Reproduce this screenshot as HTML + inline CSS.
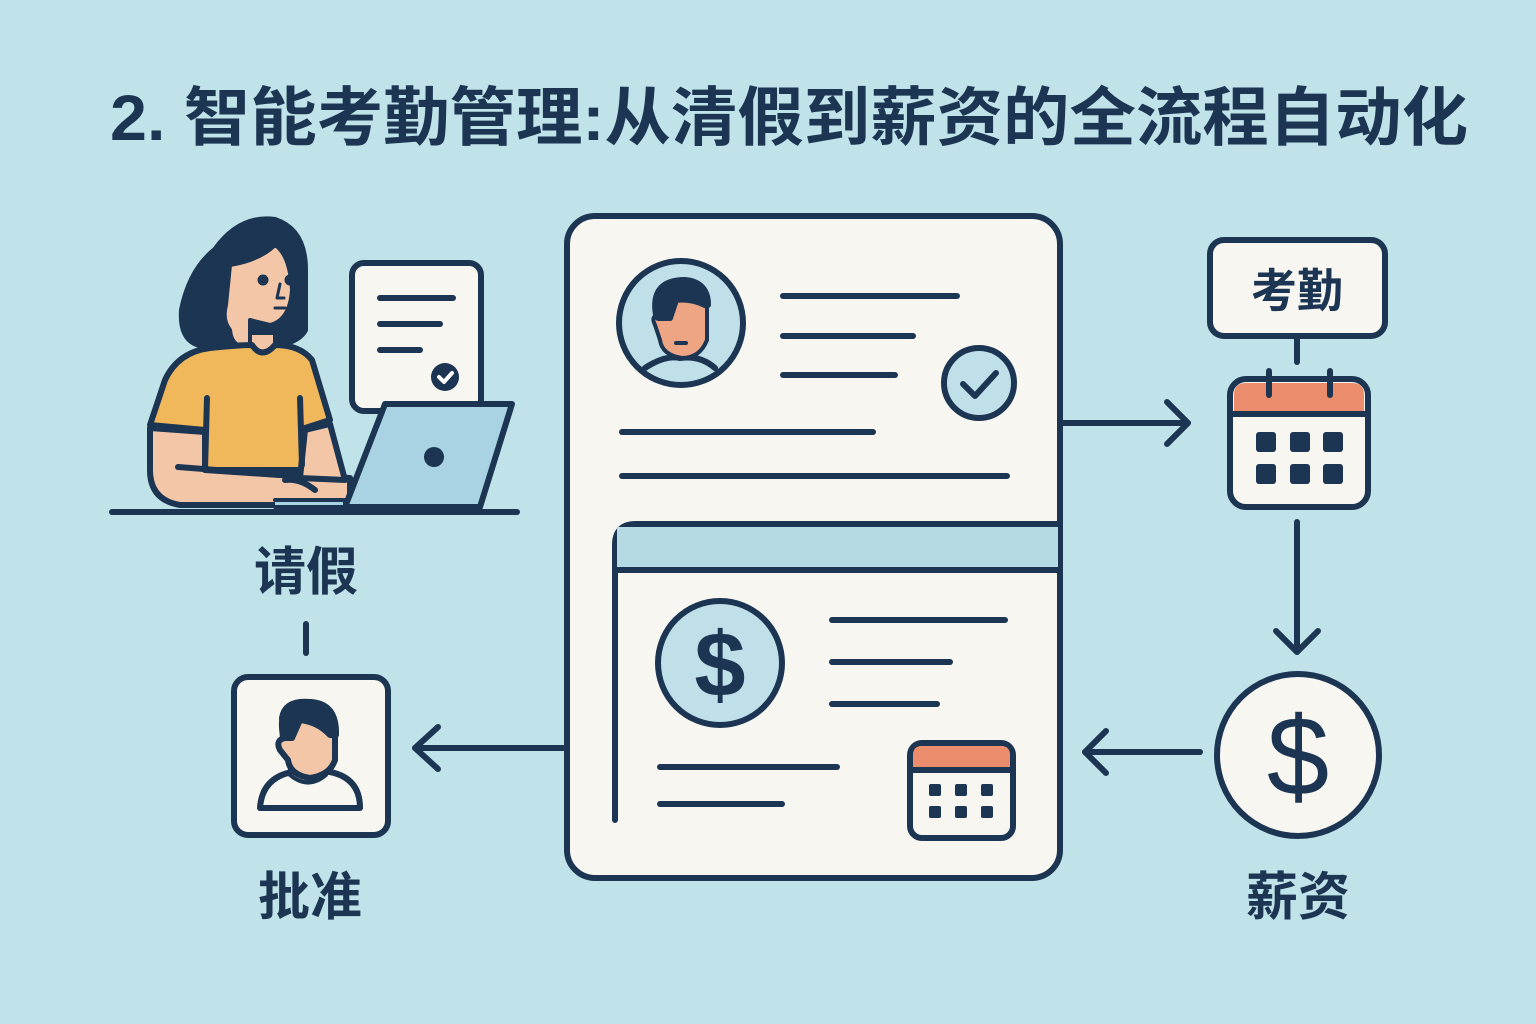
<!DOCTYPE html>
<html><head><meta charset="utf-8"><style>
html,body{margin:0;padding:0;background:#c0e3e9;}
svg{display:block}
text{font-family:"Liberation Sans","Noto Sans CJK SC",sans-serif;font-weight:700;fill:#1b3553}
</style></head><body>
<svg width="1536" height="1024" viewBox="0 0 1536 1024" xmlns="http://www.w3.org/2000/svg">
<rect width="1536" height="1024" fill="#c0e3e9"/>
<text x="110" y="140" font-size="64" textLength="1358" lengthAdjust="spacingAndGlyphs">2. 智能考勤管理:从清假到薪资的全流程自动化</text>

<g stroke="#1b3553" stroke-width="6" stroke-linecap="round" stroke-linejoin="round" fill="none">
<path d="M215 250 Q240 215 275 220 Q305 230 305 270 L305 330 Q300 340 280 345 L200 345 Q180 340 182 310 Q190 270 215 250Z" fill="#1b3553"/>
<path d="M230 265 Q260 260 275 245 Q290 255 292 290 Q290 320 270 325 L250 320 L250 345 Q232 350 230 330 Q222 320 226 305 Z" fill="#f4c6a8" stroke-width="4"/>
<path d="M250 335 L250 345 Q262 358 275 345 L275 335" fill="#f4c6a8" stroke-width="4"/>
<path d="M210 348 Q240 345 252 345 Q262 360 275 345 Q300 345 312 360 L330 420 L305 428 L305 470 L205 470 L205 430 L150 425 L165 380 Q178 352 210 348Z" fill="#f0b85a"/>
<path d="M150 428 L205 432 L205 470 L280 475 L350 478 L350 505 L180 505 Q150 500 150 470 Z" fill="#f4c6a8"/>
<path d="M305 430 L330 424 L345 480 L300 478 Z" fill="#f4c6a8"/>
<line x1="207" y1="398" x2="205" y2="470"/><line x1="300" y1="398" x2="302" y2="465"/>
<line x1="178" y1="467" x2="280" y2="475"/>
<path d="M285 480 Q300 478 315 490"/>
<circle cx="263" cy="280" r="2.5" fill="#1b3553"/><circle cx="290" cy="280" r="2.5" fill="#1b3553"/>
<path d="M280 284 L277 298 L284 298" stroke-width="3"/><path d="M275 308 L285 308" stroke-width="3"/>
<rect x="352" y="263" width="129" height="148" rx="12" fill="#f7f6f1"/>
<line x1="380" y1="298" x2="453" y2="298"/><line x1="380" y1="324" x2="440" y2="324"/><line x1="380" y1="350" x2="420" y2="350"/>
<circle cx="445" cy="377" r="14" fill="#1b3553" stroke="none"/>
<path d="M439 377 L444 382 L452 373" stroke="#fff" stroke-width="4"/>
<path d="M385 404 L512 404 L480 507 L345 507 Z" fill="#a9d3e2"/>
<path d="M275 500 L345 500 L345 507 L275 507" fill="#a9d3e2" stroke-width="4"/>
<circle cx="434" cy="457" r="10" fill="#1b3553" stroke="none"/>
<line x1="112" y1="512" x2="517" y2="512"/>
<line x1="306" y1="624" x2="306" y2="653"/>

<rect x="234" y="677" width="154" height="158" rx="14" fill="#f7f6f1"/>
<path d="M260 808 Q262 778 292 772 L330 772 Q360 778 360 808 Z" fill="#f7f6f1"/>
<path d="M290 760 L290 775 Q308 790 326 775 L326 755" fill="#f4c6a8" stroke-width="4"/>
<path d="M282 718 Q285 700 310 702 Q335 705 335 730 L335 760 Q330 775 310 778 Q290 775 288 760 L280 750 Q275 740 285 738 Z" fill="#f4c6a8"/>
<path d="M282 728 Q280 702 310 702 Q337 703 336 735 L330 735 Q318 722 300 720 L292 738 L283 738 Z" fill="#1b3553"/>
<line x1="563" y1="748" x2="415" y2="748"/><path d="M438 727 L415 748 L438 769"/>

<rect x="567" y="216" width="493" height="662" rx="28" fill="#f7f6f1"/>
<circle cx="681" cy="323" r="62" fill="#bfe0e8"/>
<path d="M645 368 Q665 355 680 358 Q700 355 715 368"/>
<path d="M660 300 Q665 280 690 282 Q707 285 707 310 L707 340 Q700 358 682 358 Q662 355 660 340 L655 325 Q650 315 660 315 Z" fill="#eea584" stroke-width="4"/>
<path d="M656 315 Q650 280 685 280 Q708 282 708 305 L705 305 Q690 298 676 300 L670 318 L658 318Z" fill="#1b3553"/>
<line x1="676" y1="343" x2="686" y2="343" stroke-width="4"/>
<line x1="783" y1="296" x2="957" y2="296"/><line x1="783" y1="336" x2="913" y2="336"/><line x1="783" y1="375" x2="895" y2="375"/>
<circle cx="979" cy="383" r="35" fill="#bfe0e8"/>
<path d="M963 384 L975 396 L996 373"/>
<line x1="622" y1="432" x2="873" y2="432"/><line x1="622" y1="476" x2="1007" y2="476"/>
<path d="M615 820 L615 545 Q615 524 636 524 L1058 524"/>
<rect x="617" y="527" width="441" height="42" fill="#b5dae4" stroke="none"/>
<line x1="617" y1="570" x2="1058" y2="570"/>
<circle cx="720" cy="663" r="62" fill="#bfe0e8"/>
<text x="720" y="696" font-size="92" text-anchor="middle" stroke="none">$</text>
<line x1="832" y1="620" x2="1005" y2="620"/><line x1="832" y1="662" x2="950" y2="662"/><line x1="832" y1="704" x2="937" y2="704"/>
<line x1="660" y1="767" x2="837" y2="767"/><line x1="660" y1="804" x2="782" y2="804"/>
<rect x="910" y="743" width="103" height="95" rx="12" fill="#f7f6f1"/>
<path d="M913 768 L913 755 Q913 746 922 746 L1001 746 Q1010 746 1010 755 L1010 768 Z" fill="#eb8c6d" stroke="none"/>
<line x1="910" y1="770" x2="1013" y2="770"/>
<g fill="#1b3553" stroke="none">
<rect x="929" y="784" width="12" height="12" rx="2"/><rect x="955" y="784" width="12" height="12" rx="2"/><rect x="981" y="784" width="12" height="12" rx="2"/>
<rect x="929" y="806" width="12" height="12" rx="2"/><rect x="955" y="806" width="12" height="12" rx="2"/><rect x="981" y="806" width="12" height="12" rx="2"/>
</g>

<line x1="1062" y1="423" x2="1188" y2="423"/><path d="M1167 402 L1188 423 L1167 444"/>
<rect x="1210" y="240" width="175" height="96" rx="14" fill="#f7f6f1"/>
<line x1="1297" y1="338" x2="1297" y2="362"/>
<rect x="1230" y="379" width="138" height="128" rx="16" fill="#f7f6f1"/>
<path d="M1234 412 L1234 395 Q1234 383 1246 383 L1352 383 Q1364 383 1364 395 L1364 412 Z" fill="#eb8c6d" stroke="none"/>
<line x1="1232" y1="414" x2="1366" y2="414"/>
<line x1="1269" y1="371" x2="1269" y2="395"/><line x1="1330" y1="371" x2="1330" y2="395"/>
<g fill="#1b3553" stroke="none">
<rect x="1256" y="432" width="20" height="20" rx="3"/><rect x="1290" y="432" width="20" height="20" rx="3"/><rect x="1323" y="432" width="20" height="20" rx="3"/>
<rect x="1256" y="464" width="20" height="20" rx="3"/><rect x="1290" y="464" width="20" height="20" rx="3"/><rect x="1323" y="464" width="20" height="20" rx="3"/>
</g>
<line x1="1297" y1="522" x2="1297" y2="652"/><path d="M1276 631 L1297 652 L1318 631"/>
<circle cx="1298" cy="755" r="81" fill="#f7f6f1"/>
<line x1="1200" y1="752" x2="1085" y2="752"/><path d="M1106 731 L1085 752 L1106 773"/>
</g>
<text x="1297" y="307" font-size="46" text-anchor="middle">考勤</text>
<text x="1298" y="795" font-size="112" text-anchor="middle" style="font-weight:400">$</text>
<text x="306" y="590" font-size="52" text-anchor="middle">请假</text>
<text x="310" y="915" font-size="52" text-anchor="middle">批准</text>
<text x="1298" y="915" font-size="52" text-anchor="middle">薪资</text>
</svg>
</body></html>
